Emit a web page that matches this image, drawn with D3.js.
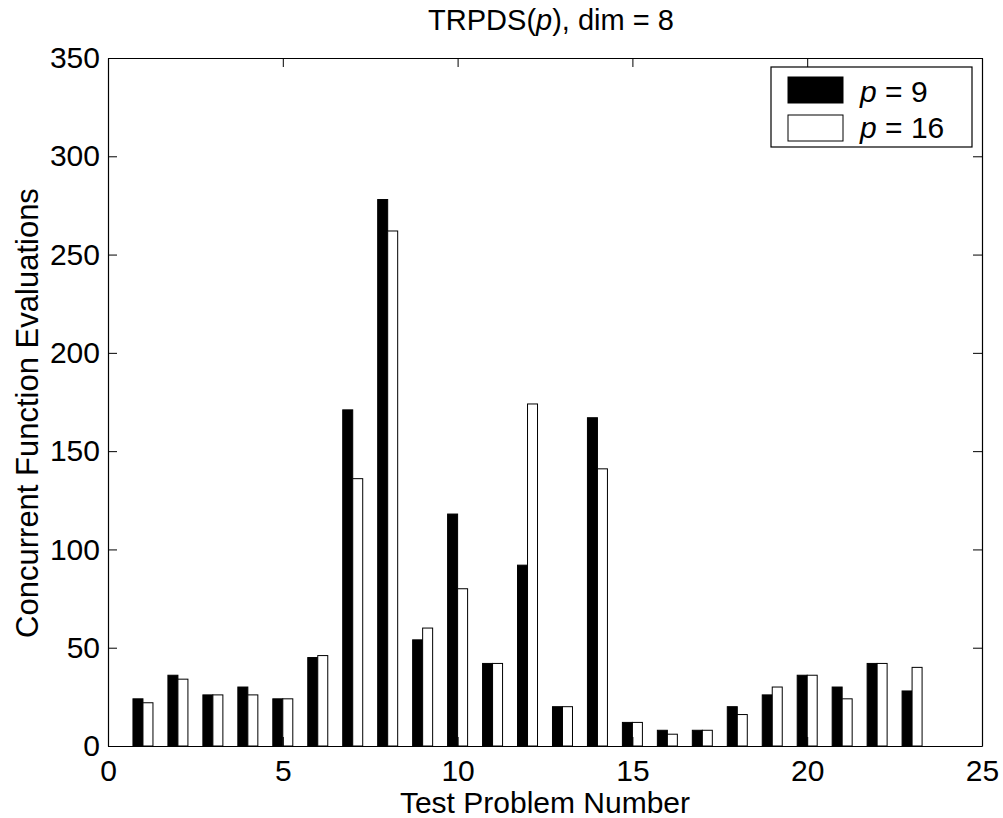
<!DOCTYPE html>
<html>
<head>
<meta charset="utf-8">
<script src="https://cdn.jsdelivr.net/npm/d3@7"></script>
<style>
  body { margin: 0; background: #fff; }
  text { font-family: "Liberation Sans", Arial, sans-serif; fill: #000; }
</style>
</head>
<body>
<svg id="chart"></svg>
<script>
const problems = d3.range(1, 25);
const p9  = [24, 36, 26, 30, 24, 45, 171, 278, 54, 118, 42, 92, 20, 167, 12, 8, 8, 20, 26, 36, 30, 42, 28, 0];
const p16 = [22, 34, 26, 26, 24, 46, 136, 262, 60, 80, 42, 174, 20, 141, 12, 6, 8, 16, 30, 36, 24, 42, 40, 0];
const xTicks = [0, 5, 10, 15, 20, 25];
const yTicks = [0, 50, 100, 150, 200, 250, 300, 350];
const seriesNames = ['p = 9', 'p = 16'];

const width = 1003, height = 818;
const margin = {left: 108, right: 21, top: 58, bottom: 72};
const fontSize = '30px';

const svg = d3.select('#chart')
  .attr('width', width)
  .attr('height', height);

const x = d3.scaleLinear().domain([0, 25]).range([margin.left, width - margin.right]);
const y = d3.scaleLinear().domain([0, 350]).range([height - margin.bottom, margin.top]);

const barW = x(0.286) - x(0);

// bars
const groups = svg.selectAll('g.prob')
  .data(problems)
  .enter()
  .append('g');

groups.append('rect')
  .attr('x', (d, i) => x(d) - barW)
  .attr('y', (d, i) => y(p9[i]))
  .attr('width', barW)
  .attr('height', (d, i) => y(0) - y(p9[i]))
  .style('fill', '#000')
  .style('stroke', '#000')
  .style('stroke-width', 1);

groups.append('rect')
  .attr('x', d => x(d))
  .attr('y', (d, i) => y(p16[i]))
  .attr('width', barW)
  .attr('height', (d, i) => y(0) - y(p16[i]))
  .style('fill', '#fff')
  .style('stroke', '#000')
  .style('stroke-width', 1);

// axes, box style with inward ticks
const tickLen = 9;
svg.append('g')
  .attr('transform', `translate(0,${y(0)})`)
  .call(d3.axisBottom(x).tickValues(xTicks).tickSizeInner(-tickLen).tickSizeOuter(0).tickPadding(14))
  .call(g => g.selectAll('text').style('font-size', fontSize));
svg.append('g')
  .attr('transform', `translate(0,${y(350)})`)
  .call(d3.axisTop(x).tickValues(xTicks).tickSizeInner(-tickLen).tickSizeOuter(0).tickFormat(''));
svg.append('g')
  .attr('transform', `translate(${x(0)},0)`)
  .call(d3.axisLeft(y).tickValues(yTicks).tickSizeInner(-tickLen).tickSizeOuter(0).tickPadding(8))
  .call(g => g.selectAll('text').style('font-size', fontSize));
svg.append('g')
  .attr('transform', `translate(${x(25)},0)`)
  .call(d3.axisRight(y).tickValues(yTicks).tickSizeInner(-tickLen).tickSizeOuter(0).tickFormat(''));

svg.selectAll('.domain').style('stroke', '#000').style('stroke-width', 1.2);
svg.selectAll('.tick line').style('stroke', '#000');
svg.selectAll('.tick text').style('font-family', '"Liberation Sans", Arial, sans-serif');

// titles
const title = svg.append('text')
  .attr('x', 551)
  .attr('y', 30)
  .attr('text-anchor', 'middle')
  .style('font-size', '29px');
title.append('tspan').text('TRPDS(');
title.append('tspan').text('p').style('font-style', 'italic');
title.append('tspan').text('), dim = 8');

svg.append('text')
  .attr('x', (x(0) + x(25)) / 2)
  .attr('y', 813)
  .attr('text-anchor', 'middle')
  .style('font-size', fontSize)
  .text('Test Problem Number');

svg.append('text')
  .attr('transform', `translate(38,${(y(0) + y(350)) / 2 + 11}) rotate(-90)`)
  .attr('text-anchor', 'middle')
  .style('font-size', '31px')
  .text('Concurrent Function Evaluations');

// legend
const legend = svg.append('g');
legend.append('rect')
  .attr('x', 771).attr('y', 67).attr('width', 201).attr('height', 80)
  .style('fill', '#fff').style('stroke', '#000').style('stroke-width', 1.2);
const fills = ['#000', '#fff'];
seriesNames.forEach((s, i) => {
  legend.append('rect')
    .attr('x', 788).attr('y', 77 + i * 38).attr('width', 55).attr('height', 26)
    .style('fill', fills[i]).style('stroke', '#000').style('stroke-width', 1);
  const t = legend.append('text')
    .attr('x', 860).attr('y', 102 + i * 36)
    .style('font-size', fontSize);
  t.append('tspan').text('p').style('font-style', 'italic');
  t.append('tspan').text(s.slice(1));
});
</script>
</body>
</html>
